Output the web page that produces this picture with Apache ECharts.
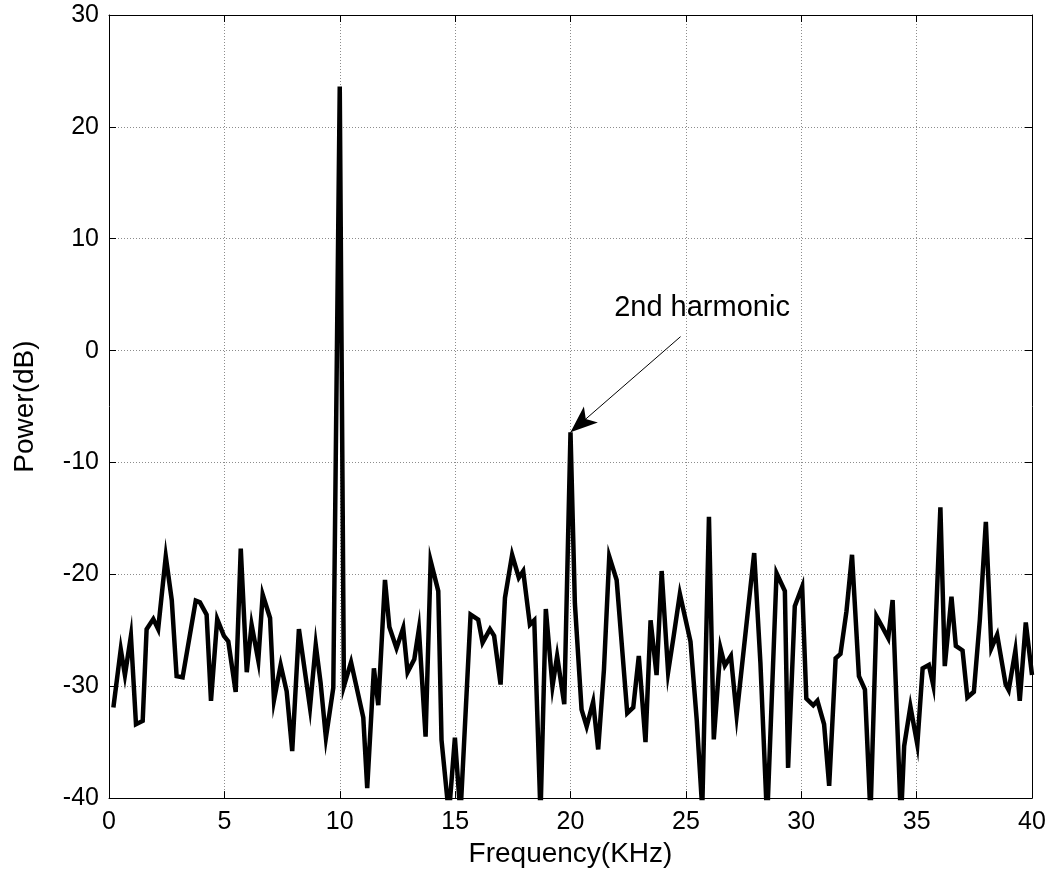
<!DOCTYPE html>
<html>
<head>
<meta charset="utf-8">
<title>Power spectrum</title>
<script src="https://cdn.jsdelivr.net/npm/echarts@6/dist/echarts.min.js"></script>
<style>
  html, body { margin: 0; padding: 0; background: #fff; }
  #chart { width: 1057px; height: 873px; }
</style>
</head>
<body>
<div id="chart"></div>
<script>
// Spectrum samples: frequency (kHz) and power (dB)
const freqKHz = [
  0.19, 0.51, 0.69, 0.95, 1.17, 1.46, 1.63, 1.92, 2.13, 2.46,
  2.72, 2.93, 3.19, 3.76, 3.94, 4.23, 4.42, 4.69, 4.98, 5.17,
  5.49, 5.71, 5.97, 6.18, 6.47, 6.66, 6.98, 7.15, 7.44, 7.70,
  7.94, 8.23, 8.71, 8.96, 9.17, 9.40, 9.72, 10.00, 10.18, 10.49,
  11.02, 11.19, 11.48, 11.67, 11.96, 12.15, 12.46, 12.75, 12.94, 13.23,
  13.43, 13.72, 13.94, 14.27, 14.41, 14.73, 14.99, 15.23, 15.67, 16.00,
  16.19, 16.51, 16.69, 16.97, 17.16, 17.47, 17.76, 17.95, 18.24, 18.43,
  18.70, 18.93, 19.22, 19.42, 19.73, 20.00, 20.19, 20.48, 20.70, 20.98,
  21.20, 21.45, 21.68, 22.00, 22.46, 22.72, 22.96, 23.25, 23.47, 23.73,
  23.95, 24.23, 24.48, 24.74, 25.20, 25.47, 25.71, 26.00, 26.21, 26.50,
  26.69, 26.95, 27.20, 27.96, 28.23, 28.52, 28.93, 29.29, 29.43, 29.72,
  30.04, 30.22, 30.52, 30.70, 30.99, 31.21, 31.49, 31.70, 31.96, 32.20,
  32.50, 32.76, 33.00, 33.26, 33.51, 33.77, 33.96, 34.32, 34.46, 34.73,
  35.03, 35.26, 35.53, 35.72, 36.03, 36.22, 36.51, 36.70, 36.99, 37.20,
  37.48, 37.74, 38.00, 38.24, 38.49, 38.86, 38.99, 39.28, 39.47, 39.73,
  40.00
];
const powerDb = [
  -31.9, -26.7, -29.0, -25.5, -33.4, -33.1, -24.9, -24.0, -24.9, -18.4,
  -22.3, -29.1, -29.2, -22.35, -22.5, -23.6, -31.3, -24.0, -25.5, -26.0,
  -30.5, -17.7, -28.75, -24.5, -27.7, -21.8, -23.9, -31.25, -28.1, -30.45,
  -35.8, -24.9, -31.9, -26.3, -29.7, -34.6, -30.15, 23.6, -30.0, -27.85,
  -32.8, -39.1, -28.4, -31.7, -20.5, -24.7, -26.6, -24.8, -28.75, -27.6,
  -24.9, -34.5, -18.8, -21.5, -34.8, -41.5, -34.6, -41.5, -23.6, -24.05,
  -26.1, -24.9, -25.5, -29.85, -22.1, -18.25, -20.3, -19.7, -24.5, -24.1,
  -41.5, -23.1, -30.0, -27.3, -31.6, -7.3, -22.6, -32.1, -33.6, -31.4,
  -35.65, -28.5, -18.4, -20.5, -32.4, -31.9, -27.3, -35.0, -24.1, -29.0,
  -19.7, -28.75, -25.4, -21.75, -26.0, -33.0, -41.0, -14.85, -34.75, -26.6,
  -28.15, -27.3, -32.6, -18.1, -27.9, -42.0, -19.9, -21.5, -37.3, -22.85,
  -21.1, -31.1, -31.7, -31.3, -33.4, -38.9, -27.5, -27.1, -23.3, -18.25,
  -29.1, -30.3, -41.5, -23.75, -24.7, -25.7, -22.3, -42.0, -35.35, -31.8,
  -35.2, -28.4, -28.1, -29.9, -14.0, -28.2, -22.0, -26.4, -26.8, -31.0,
  -30.5, -24.05, -15.3, -26.6, -25.4, -29.85, -30.35, -26.8, -31.3, -24.3,
  -29.0
];

// Axis ranges and tick steps
const freqRange = [0, 40];
const freqStep = 5;
const powerRange = [-40, 30];
const powerStep = 10;

// Annotation text and the harmonic it points to
const noteText = '2nd harmonic';
const harmonicKHz = 20;

const spectrum = freqKHz.map((f, i) => [f, powerDb[i]]);
const harmonicDb = powerDb[freqKHz.indexOf(harmonicKHz)];

// Arrow runs from below the note down to the harmonic peak
const arrowTail = [24.77, 1.25];
const arrowEnd = [harmonicKHz, harmonicDb];

const FONT = "'Liberation Sans', Arial, Helvetica, sans-serif";
const chart = echarts.init(document.getElementById('chart'), null, { renderer: 'canvas' });

const frameAxis = (extra) => Object.assign({
  type: 'value',
  axisLine: { show: true, onZero: false, lineStyle: { color: '#000', width: 1 } },
  axisTick: { show: true, inside: true, length: 7, lineStyle: { color: '#000', width: 1 } },
  splitLine: { show: false },
  axisLabel: { show: false }
}, extra);

chart.setOption({
  animation: false,
  backgroundColor: '#fff',
  textStyle: { fontFamily: FONT },
  grid: { left: 109, top: 15, width: 923, height: 784, containLabel: false },
  xAxis: [
    frameAxis({
      position: 'bottom',
      min: freqRange[0], max: freqRange[1], interval: freqStep,
      splitLine: { show: true, lineStyle: { color: '#8c8c8c', width: 1, type: [1, 2] } },
      axisLabel: { show: true, color: '#000', fontSize: 25, fontFamily: FONT, margin: 12 },
      name: 'Frequency(KHz)',
      nameLocation: 'middle',
      nameGap: 36,
      nameTextStyle: { color: '#000', fontSize: 28, fontFamily: FONT }
    }),
    frameAxis({ position: 'top', min: freqRange[0], max: freqRange[1], interval: freqStep })
  ],
  yAxis: [
    frameAxis({
      position: 'left',
      min: powerRange[0], max: powerRange[1], interval: powerStep,
      splitLine: { show: true, lineStyle: { color: '#8c8c8c', width: 1, type: [1, 2] } },
      axisLabel: { show: true, color: '#000', fontSize: 25, fontFamily: FONT, margin: 10 },
      name: 'Power(dB)',
      nameLocation: 'middle',
      nameGap: 70,
      nameRotate: 90,
      nameTextStyle: { color: '#000', fontSize: 28, fontFamily: FONT }
    }),
    frameAxis({ position: 'right', min: powerRange[0], max: powerRange[1], interval: powerStep })
  ],
  series: [{
    type: 'line',
    data: spectrum,
    showSymbol: false,
    symbol: 'none',
    clip: true,
    lineStyle: { color: '#000', width: 4.5, join: 'miter' },
    markLine: {
      silent: true,
      animation: false,
      symbol: ['none', 'arrow'],
      symbolSize: [16, 27],
      lineStyle: { color: '#000', width: 1, type: 'solid' },
      itemStyle: { color: '#000' },
      label: { show: false },
      data: [[
        { coord: arrowTail },
        { coord: arrowEnd }
      ]]
    },
    markPoint: {
      silent: true,
      animation: false,
      symbol: 'circle',
      symbolSize: 0,
      label: {
        show: true, position: 'inside', formatter: noteText,
        color: '#000', fontSize: 29, fontFamily: FONT
      },
      data: [{ coord: [25.7, 3.85] }]
    }
  }]
});
</script>
</body>
</html>
